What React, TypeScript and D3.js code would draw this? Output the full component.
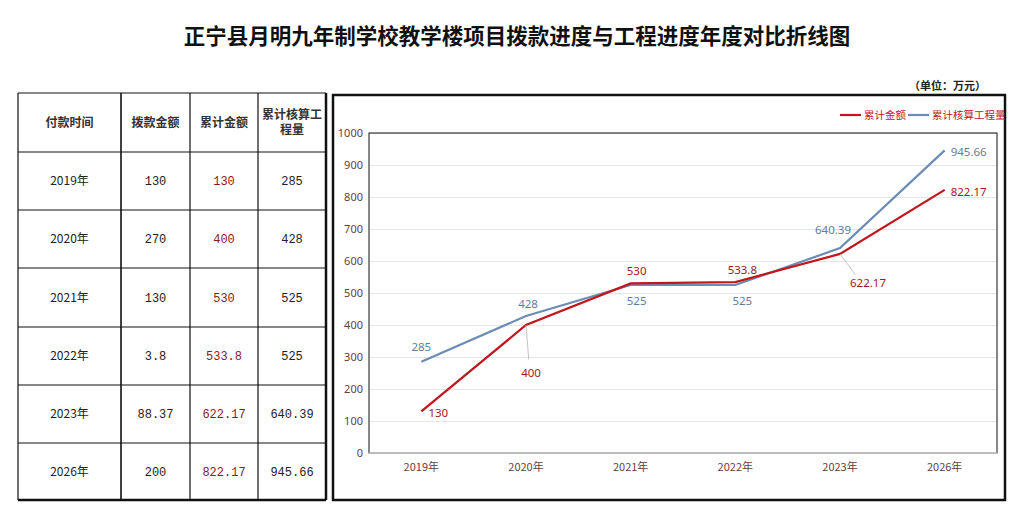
import { useEffect, useRef } from 'react'
import * as d3 from 'd3'

const years = ['2019年', '2020年', '2021年', '2022年', '2023年', '2026年']
const allocated = ['130', '270', '130', '3.8', '88.37', '200']
const cumulative = [130, 400, 530, 533.8, 622.17, 822.17]
const engineering = [285, 428, 525, 525, 640.39, 945.66]
const cumulativeText = ['130', '400', '530', '533.8', '622.17', '822.17']
const engineeringText = ['285', '428', '525', '525', '640.39', '945.66']
const headers = ['付款时间', '拨款金额', '累计金额', '累计核算工程量']
const yTicks = [0, 100, 200, 300, 400, 500, 600, 700, 800, 900, 1000]
const seriesNames = ['累计金额', '累计核算工程量']

// label offsets relative to each point (dx, dy)
const redLabelOffset = [[17, 2], [5, 48], [6, -12], [7, -12], [28, 29], [24, 2]]
const blueLabelOffset = [[0, -15], [2, -12], [6, 16], [7, 16], [-7, -18], [24, 2]]

const RED = '#c0161d'
const BLUE = '#6b8cb4'
const AXIS_TEXT = '#6a3c3c'
const CJK = '"Noto Sans CJK SC", "Noto Sans", sans-serif'

export default function App() {
  const ref = useRef<SVGSVGElement>(null)

  useEffect(() => {
    if (!ref.current) return
    const svg = d3.select(ref.current)
    svg.selectAll('*').remove()

    svg.append('rect').attr('width', 1021).attr('height', 520).attr('fill', '#fff')

    svg.append('text')
      .attr('x', 517).attr('y', 44)
      .attr('text-anchor', 'middle')
      .style('font-family', CJK)
      .style('font-size', '21.5px')
      .style('font-weight', 700)
      .style('fill', '#111')
      .text('正宁县月明九年制学校教学楼项目拨款进度与工程进度年度对比折线图')

    svg.append('text')
      .attr('x', 986).attr('y', 90)
      .attr('text-anchor', 'end')
      .style('font-family', CJK)
      .style('font-size', '11px')
      .style('font-weight', 700)
      .style('fill', '#222')
      .text('（单位：万元）')

    // ---- table ----
    const colX = [18, 121, 190, 258, 326]
    const rowY = [93, 152, 210, 268, 327, 385, 443, 500]
    const table = svg.append('g')
    colX.forEach((x, i) => {
      table.append('line')
        .attr('x1', x).attr('x2', x).attr('y1', rowY[0]).attr('y2', rowY[rowY.length - 1])
        .attr('stroke', '#111').attr('stroke-width', i === colX.length - 1 ? 2.5 : i === 1 ? 1.6 : 1.2)
    })
    rowY.forEach((y, i) => {
      table.append('line')
        .attr('x1', colX[0]).attr('x2', colX[colX.length - 1]).attr('y1', y).attr('y2', y)
        .attr('stroke', '#111').attr('stroke-width', i === rowY.length - 1 ? 2.5 : 1.2)
    })
    const cx = (i: number) => (colX[i] + colX[i + 1]) / 2
    const cy = (r: number) => (rowY[r] + rowY[r + 1]) / 2

    headers.forEach((h, i) => {
      const t = table.append('text')
        .attr('x', cx(i)).attr('text-anchor', 'middle')
        .style('font-family', CJK).style('font-size', '12px').style('font-weight', 700)
        .style('fill', '#333')
      if (h.length > 5) {
        t.append('tspan').attr('x', cx(i)).attr('y', cy(0) - 4).text(h.slice(0, 5))
        t.append('tspan').attr('x', cx(i)).attr('y', cy(0) + 11).text(h.slice(5))
      } else {
        t.attr('y', cy(0) + 4).text(h)
      }
    })

    years.forEach((yr, r) => {
      const cells = [yr, allocated[r], cumulativeText[r], engineeringText[r]]
      cells.forEach((c, i) => {
        table.append('text')
          .attr('x', cx(i)).attr('y', cy(r + 1) + 4)
          .attr('text-anchor', 'middle')
          .style('font-family', i === 0 ? CJK : '"Liberation Mono", monospace')
          .style('font-size', '12px')
          .style('fill', i === 2 ? '#8a1a1a' : '#222')
          .text(c)
      })
    })

    // ---- chart box ----
    svg.append('rect')
      .attr('x', 333).attr('y', 95).attr('width', 672).attr('height', 405)
      .attr('fill', 'none').attr('stroke', '#111').attr('stroke-width', 2.5)

    const plot = { left: 369, right: 997, top: 133, bottom: 453 }
    const x = d3.scaleBand<string>().domain(years).range([plot.left, plot.right])
    const xc = (d: string) => (x(d) ?? 0) + x.bandwidth() / 2
    const y = d3.scaleLinear().domain([0, 1000]).range([plot.bottom, plot.top])

    const g = svg.append('g')

    g.append('g')
      .attr('transform', `translate(${plot.left},0)`)
      .call(d3.axisLeft(y).tickValues(yTicks).tickSize(-(plot.right - plot.left)).tickFormat(() => ''))
      .call((s) => s.select('.domain').remove())
      .selectAll('line')
      .attr('stroke', '#e6e6e6')

    g.append('rect')
      .attr('x', plot.left).attr('y', plot.top)
      .attr('width', plot.right - plot.left).attr('height', plot.bottom - plot.top)
      .attr('fill', 'none').attr('stroke', '#111').attr('stroke-width', 1)

    g.append('line')
      .attr('x1', plot.left).attr('x2', plot.right).attr('y1', plot.bottom).attr('y2', plot.bottom)
      .attr('stroke', '#d0d0d0').attr('stroke-width', 1.5)

    yTicks.forEach((v) => {
      g.append('text')
        .attr('x', plot.left - 6).attr('y', y(v) + 4)
        .attr('text-anchor', 'end')
        .style('font-family', '"Noto Sans", sans-serif').style('font-size', '11px')
        .style('fill', AXIS_TEXT)
        .text(v)
    })

    years.forEach((yr) => {
      g.append('text')
        .attr('x', xc(yr)).attr('y', plot.bottom + 18)
        .attr('text-anchor', 'middle')
        .style('font-family', CJK).style('font-size', '11px')
        .style('fill', AXIS_TEXT)
        .text(yr)
    })

    const line = d3.line<number>().x((_, i) => xc(years[i])).y((d) => y(d))

    g.append('path').datum(engineering)
      .attr('fill', 'none').attr('stroke', BLUE).attr('stroke-width', 2.2).attr('d', line)
    g.append('path').datum(cumulative)
      .attr('fill', 'none').attr('stroke', RED).attr('stroke-width', 2.2).attr('d', line)

    const drawLabels = (vals: number[], texts: string[], offs: number[][], color: string) => {
      vals.forEach((v, i) => {
        const px = xc(years[i])
        const py = y(v)
        const [dx, dy] = offs[i]
        if (Math.abs(dy) > 20) {
          g.append('line')
            .attr('x1', px).attr('y1', py)
            .attr('x2', px + dx * 0.55).attr('y2', py + dy * 0.72)
            .attr('stroke', '#b5b5b5').attr('stroke-width', 0.8)
        }
        g.append('text')
          .attr('x', px + dx).attr('y', py + dy + 4)
          .attr('text-anchor', 'middle')
          .style('font-family', '"Noto Sans", sans-serif').style('font-size', '11.5px')
          .style('fill', color)
          .text(texts[i])
      })
    }
    drawLabels(engineering, engineeringText, blueLabelOffset, '#5f7d9f')
    drawLabels(cumulative, cumulativeText, redLabelOffset, '#a01a1e')

    // ---- legend ----
    const legend = svg.append('g').attr('transform', 'translate(840,115)')
    const legendX = [0, 68]
    seriesNames.forEach((name, i) => {
      legend.append('line')
        .attr('x1', legendX[i]).attr('x2', legendX[i] + 21).attr('y1', 0).attr('y2', 0)
        .attr('stroke', i === 0 ? RED : BLUE).attr('stroke-width', 2.2)
      legend.append('text')
        .attr('x', legendX[i] + 24).attr('y', 4)
        .style('font-family', CJK).style('font-size', '10.5px')
        .style('fill', RED)
        .text(name)
    })
  }, [])

  return (
    <svg
      ref={ref}
      width={1021}
      height={520}
      style={{ position: 'absolute', left: 0, top: 0, display: 'block' }}
    />
  )
}
